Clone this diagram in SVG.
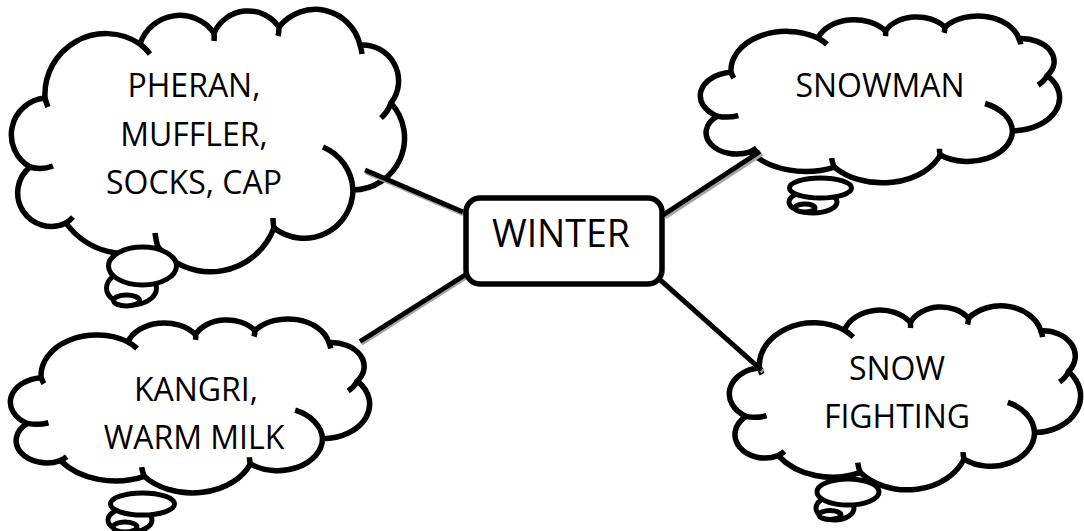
<svg xmlns="http://www.w3.org/2000/svg" xmlns:xlink="http://www.w3.org/1999/xlink" width="1084" height="531" viewBox="0 0 1084 531">
<style>
.cloud{fill:#fff;stroke:#000;stroke-width:5.5;stroke-linejoin:round}
.crease{fill:none;stroke:#000;stroke-width:5.5;stroke-linecap:butt}
.bub{fill:#fff;stroke:#000;stroke-width:5}
.lbl{font-family:"Open Sans","Liberation Sans",sans-serif;font-size:32px;fill:#000;text-anchor:middle}
.conn{stroke:#000;stroke-width:5;stroke-linecap:butt}
.shadow{stroke:#a6a6a6;stroke-width:5;stroke-linecap:butt}
.box{fill:#fff;stroke:#000;stroke-width:5.5}
</style>
<defs>
<path id="cloudOutline" vector-effect="non-scaling-stroke" d="M45,98 A61,61 0 0 1 140,44 A42,42 0 0 1 214,33 A37.5,37.5 0 0 1 279,27 A46,46 0 0 1 360,45 A36,36 0 0 1 391,103 A52,52 0 0 1 353,190 A49,49 0 0 1 274,228 A68,68 0 0 1 158,247 A75,75 0 0 1 66,223 A33.5,33.5 0 0 1 30,167 A37,37 0 0 1 45,98 Z"/>
<path id="cloudCreases" vector-effect="non-scaling-stroke" d="M48,107 A61,61 0 0 1 45,98 M140,44 A61,61 0 0 1 150,54 M214,33 A42,42 0 0 1 214,41 M279,27 A37.5,37.5 0 0 1 278,36 M360,45 A46,46 0 0 1 362,54 M391,103 A36,36 0 0 1 381,118 M323,147 A49,49 0 0 1 353,190 M274,228 A49,49 0 0 1 273,218 M158,247 A68,68 0 0 1 155,233 M73,217 A33.5,33.5 0 0 1 66,223 M53,166 A37,37 0 0 1 30,167"/>
</defs>

<g id="node-clothes">
<use href="#cloudOutline" class="cloud"/>
<use href="#cloudCreases" class="crease"/>
<ellipse class="bub" cx="131.5" cy="288" rx="25" ry="17"/>
<ellipse class="bub" cx="142.5" cy="266" rx="34" ry="19"/>
<ellipse class="bub" cx="126.5" cy="300.5" rx="13" ry="5.5"/>
<text class="lbl" x="194" y="97">PHERAN,</text>
<text class="lbl" x="194" y="146">MUFFLER,</text>
<text class="lbl" x="194" y="194">SOCKS, CAP</text>
</g>

<g id="node-snowman">
<use href="#cloudOutline" class="cloud" transform="translate(689.95,10) scale(0.9137,0.636)"/>
<use href="#cloudCreases" class="crease" transform="translate(689.95,10) scale(0.9137,0.636)"/>
<ellipse class="bub" cx="813" cy="202" rx="24" ry="11"/>
<ellipse class="bub" cx="820.5" cy="188" rx="31" ry="10"/>
<ellipse class="bub" cx="805" cy="208" rx="10" ry="4"/>
<text class="lbl" x="880" y="97">SNOWMAN</text>
</g>

<g id="node-kangri">
<use href="#cloudOutline" class="cloud" transform="translate(0,312.7) scale(0.9137,0.663)"/>
<use href="#cloudCreases" class="crease" transform="translate(0,312.7) scale(0.9137,0.663)"/>
<ellipse class="bub" cx="130" cy="520" rx="22" ry="12"/>
<ellipse class="bub" cx="142.5" cy="504" rx="32" ry="11"/>
<ellipse class="bub" cx="125" cy="527" rx="12" ry="5"/>
<text class="lbl" x="196" y="401">KANGRI,</text>
<text class="lbl" x="194" y="449">WARM MILK</text>
</g>

<g id="node-snowfight">
<use href="#cloudOutline" class="cloud" transform="translate(719.2,299.3) scale(0.8934,0.701)"/>
<use href="#cloudCreases" class="crease" transform="translate(719.2,299.3) scale(0.8934,0.701)"/>
<ellipse class="bub" cx="835" cy="508" rx="19" ry="12"/>
<ellipse class="bub" cx="848" cy="492" rx="31" ry="13"/>
<ellipse class="bub" cx="830" cy="515" rx="11" ry="4.5"/>
<text class="lbl" x="897" y="380">SNOW</text>
<text class="lbl" x="897" y="428">FIGHTING</text>
</g>

<g id="connectors">
<line class="shadow" x1="366" y1="172" x2="464" y2="214"/>
<line class="conn" x1="365" y1="170" x2="463" y2="212"/>
<line class="shadow" x1="665" y1="217" x2="762" y2="153.5"/>
<line class="conn" x1="663" y1="215" x2="760" y2="151.5"/>
<line class="shadow" x1="466" y1="277" x2="361" y2="343.5"/>
<line class="conn" x1="465" y1="275" x2="360" y2="341.5"/>
<line class="shadow" x1="658" y1="278.5" x2="763" y2="371.5"/>
<line class="conn" x1="656.5" y1="276.5" x2="761.5" y2="370"/>
</g>

<g id="node-winter">
<rect class="box" x="466" y="198" width="196" height="86" rx="14"/>
<text class="lbl" x="561" y="247" style="font-size:37.5px">WINTER</text>
</g>
</svg>
